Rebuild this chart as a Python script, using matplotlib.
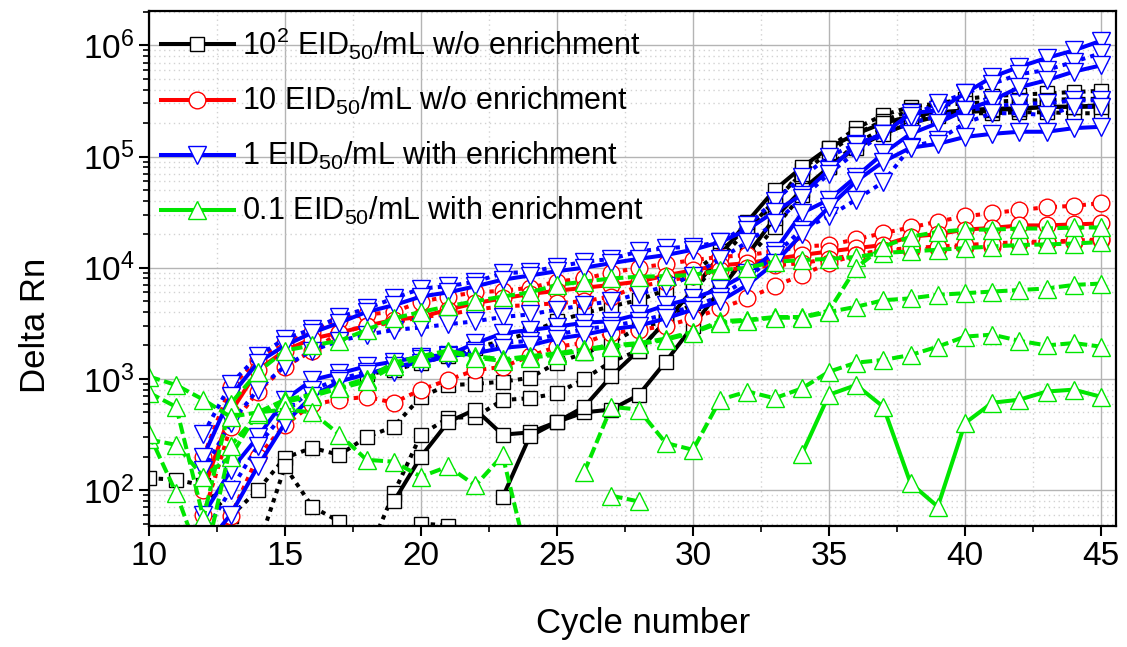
import numpy as np
import matplotlib
matplotlib.use("Agg")
import matplotlib.pyplot as plt
from matplotlib.lines import Line2D
from matplotlib.ticker import MultipleLocator, LogLocator, NullFormatter

nan = np.nan

# cycle numbers 10..45
cycles = np.arange(10, 46)

# 10^2 EID50/mL w/o enrichment (black squares)
k1 = [128, 124, 110, 58, 100, 195, 240, 207, 300, 372,
      690, 880, 900, 945, 1020, 1400, 1700, 2100, 2900, 3300,
      4800, 7000, 1.2e4, 2.3e4, 4.5e4, 8e4, 1.3e5, 1.8e5, 2.2e5, 2.4e5,
      2.45e5, 2.45e5, 2.5e5, 2.5e5, 2.45e5, 2.45e5]
k2 = [nan, nan, nan, nan, nan, nan, nan, nan, 1100, 1200,
      1400, 1600, 1900, 2200, 2600, 3300, 3900, 4500, 5100, 6300,
      9000, 1.4e4, 2.3e4, 3.7e4, 7.6e4, 1.2e5, 1.8e5, 2.36e5, 2.8e5, 3.0e5,
      3.3e5, 3.5e5, 3.6e5, 3.7e5, 3.8e5, 3.9e5]
k3 = [nan, nan, nan, nan, 30, 163, 71, 52, 25, 94,
      315, 445, 455, 645, 670, 740, 1000, 1430, 1800, 3300,
      6000, 1.2e4, 2.2e4, 4.0e4, 7.0e4, 1.1e5, 1.6e5, 2.1e5, 2.6e5, 2.9e5,
      3.0e5, 3.1e5, 3.2e5, 3.2e5, 3.3e5, 3.3e5]
k4 = [nan, nan, nan, nan, nan, nan, nan, nan, nan, 79,
      200, 410, 530, 315, 330, 410, 500, 530, 716, 1430,
      3000, 6300, 1.3e4, 2.8e4, 5e4, 8e4, 1.2e5, 1.6e5, 2.0e5, 2.3e5,
      2.5e5, 2.6e5, 2.7e5, 2.8e5, 2.8e5, 2.9e5]
k5 = [nan, nan, nan, nan, nan, nan, nan, nan, nan, nan,
      nan, nan, nan, 86, 305, 410, 560, 1060, 1800, 3300,
      6300, 1.3e4, 2.6e4, 5e4, 8e4, 1.2e5, 1.6e5, 2.0e5, 2.3e5, 2.5e5,
      2.6e5, 2.7e5, 2.7e5, 2.8e5, 2.8e5, 2.8e5]
k6 = [nan] * 10 + [50, 48] + [nan] * 24

# 10 EID50/mL w/o enrichment (red circles)
r1 = [nan, nan, 200, 850, 1480, 2100, 2660, 3400, 3800, 4000,
      4950, 5500, 6000, 6200, 6600, 7500, 8000, 9000, 1.0e4, 1.08e4,
      1.17e4, 1.25e4, 1.3e4, 1.4e4, 1.55e4, 1.6e4, 1.8e4, 2.05e4, 2.3e4, 2.6e4,
      2.9e4, 3.1e4, 3.3e4, 3.5e4, 3.6e4, 3.8e4]
r2 = [nan, nan, 100, 500, 1200, 1800, 2300, 2600, 3000, 3400,
      3600, 4200, 4800, 5300, 5800, 6200, 6600, 7000, 7500, 8500,
      9500, 1.05e4, 1.1e4, 1.2e4, 1.3e4, 1.4e4, 1.5e4, 1.6e4, 1.9e4, 2.0e4,
      2.2e4, 2.28e4, 2.4e4, 2.4e4, 2.45e4, 2.5e4]
r3 = [nan, nan, 60, 370, 770, 1280, 1800, 2600, 3000, 3200,
      3600, 3800, 4200, 4500, 4600, 4800, 5000, 5500, 6800, 7500,
      8500, 9500, 1.0e4, 1.05e4, 1.1e4, 1.2e4, 1.3e4, 1.44e4, 1.44e4, 1.5e4,
      1.55e4, 1.55e4, 1.66e4, 1.7e4, 1.72e4, 1.77e4]
r4 = [nan, nan, 20, 58, 200, 385, 590, 650, 690, 610,
      800, 980, 1200, 1280, 1600, 1950, 2100, 2600, 2750, 3000,
      3500, 4300, 5300, 6800, 8600, 1.1e4, 1.3e4, 1.44e4, 1.5e4, 1.55e4,
      1.6e4, 1.65e4, 1.7e4, 1.72e4, 1.75e4, 1.8e4]

# 1 EID50/mL with enrichment (blue down triangles)
b1 = [nan, nan, 320, 900, 1600, 2300, 2800, 3600, 4300, 5300,
      6500, 6800, 7500, 8900, 9200, 1.02e4, 1.13e4, 1.2e4, 1.4e4, 1.5e4,
      1.55e4, 1.7e4, 2.4e4, 4.0e4, 6.5e4, 1.0e5, 1.3e5, 1.6e5, 2.0e5, 2.3e5,
      2.6e5, 2.8e5, 3.0e5, 3.0e5, 3.2e5, 3.2e5]
b2 = [nan, nan, 200, 700, 1400, 2000, 2600, 3200, 4000, 4600,
      5500, 6000, 6800, 7800, 8500, 9300, 1.0e4, 1.1e4, 1.2e4, 1.3e4,
      1.45e4, 1.7e4, 2.2e4, 3.2e4, 4.5e4, 7.6e4, 1.27e5, 1.6e5, 2.45e5, 2.6e5,
      3.7e5, 5.2e5, 6.4e5, 7.7e5, 9.0e5, 1.1e6]
b3 = [nan, nan, 150, 400, 800, 1300, 1800, 2200, 2500, 2750,
      2900, 3100, 3300, 3600, 3800, 4200, 4600, 5000, 5800, 6800,
      8500, 1.2e4, 1.7e4, 2.5e4, 4.2e4, 7.0e4, 1.1e5, 1.6e5, 2.3e5, 3.0e5,
      3.7e5, 4.5e5, 5.5e5, 6.0e5, 7.1e5, 8.5e5]
b4 = [nan, nan, 60, 150, 300, 650, 980, 1120, 1300, 1430,
      1580, 1640, 2090, 2570, 2750, 2950, 3200, 3300, 3800, 4600,
      5300, 6500, 8900, 1.4e4, 3.1e4, 4.1e4, 6.6e4, 1.07e5, 1.6e5, 2.0e5,
      2.6e5, 3.2e5, 4.2e5, 4.85e5, 5.8e5, 6.6e5]
b5 = [nan, nan, 40, 100, 250, 500, 800, 1000, 1150, 1160,
      1500, 1550, 1800, 2100, 2200, 2500, 2800, 3000, 3300, 3800,
      4500, 5500, 8000, 1.3e4, 2.2e4, 2.9e4, 4.1e4, 5.9e4, 1.22e5, 1.4e5,
      2.0e5, 2.45e5, 2.45e5, 2.35e5, 2.8e5, 2.8e5]
b6 = [nan, nan, 30, 60, 163, 400, 700, 950, 1100, 1300,
      1400, 1600, 1700, 1900, 2000, 2300, 2500, 2800, 3000, 3500,
      4200, 5000, 7000, 1.1e4, 2.0e4, 3.5e4, 6.0e4, 9.0e4, 1.2e5, 1.3e5,
      1.5e5, 1.6e5, 1.67e5, 1.67e5, 1.8e5, 1.85e5]

# 0.1 EID50/mL with enrichment (green up triangles)
g1 = [750, 560, 56, 600, 1150, 1800, 2000, 2200, 2750, 3500,
      4000, 4500, 5000, 5500, 6000, 7000, 7500, 8000, 8300, 8400,
      8600, 9500, 1.0e4, 1.13e4, 1.17e4, 1.2e4, 1.25e4, 1.36e4, 1.4e4, 1.45e4,
      1.5e4, 1.55e4, 1.6e4, 1.62e4, 1.65e4, 1.7e4]
g2 = [285, 255, 132, 200, 500, 650, 720, 850, 1000, 1400,
      1600, 1800, 1600, 1500, 1600, 1700, 1850, 2000, 2100, 2300,
      2650, 3300, 3400, 3600, 3600, 4100, 1.0e4, 1.55e4, 1.9e4, 2.1e4,
      2.2e4, 2.2e4, 2.25e4, 2.25e4, 2.3e4, 2.3e4]
g3 = [320, 94, 20, 250, 480, 620, 700, 820, 950, 1300,
      1550, 1750, 1550, 1450, 1550, 1650, 1800, 1950, 2050, 2250,
      2600, 3200, 3350, 3550, 3550, 4000, 4450, 5100, 5300, 5700,
      5900, 6100, 6300, 6500, 7000, 7200]
g4 = [nan] * 16 + [145, 560, 530, 265,
                   230, 650, 770, 670, 820, 1160, 1400, 1480, 1640, 1950,
                   2400, 2500, 2200, 2000, 2100, 1950]
g5 = [nan] * 24 + [210, 720, 880, 560, 115, 71,
                   400, 610, 650, 770, 800, 690]
g6 = [nan] * 17 + [89, 79] + [nan] * 17
g7 = [1050, 880, 650, 455, 500, 530, 500, 316, 187, 180,
      132, 163, 110, 205, 20] + [nan] * 21

labels = [r'10$^{2}$ EID$_{50}$/mL w/o enrichment',
          r'10 EID$_{50}$/mL w/o enrichment',
          r'1 EID$_{50}$/mL with enrichment',
          r'0.1 EID$_{50}$/mL with enrichment']

plt.rcParams['font.family'] = ['Liberation Sans', 'DejaVu Sans']
plt.rcParams['mathtext.fontset'] = 'custom'
plt.rcParams['mathtext.rm'] = 'Liberation Sans'
plt.rcParams['mathtext.it'] = 'Liberation Sans:italic'
plt.rcParams['mathtext.bf'] = 'Liberation Sans:bold'

DOT = (0, (1.1, 1.3))
DASH = (0, (2.8, 1.1))
LW = 2.9

fig = plt.figure(figsize=(11.27, 6.47), dpi=100)
ax = fig.add_axes([0.1322, 0.187, 0.858, 0.7965])

groups = [
    ('black', 's', 10.5, [(k1, DOT), (k2, DOT), (k3, DOT), (k4, '-'), (k5, '-'), (k6, DOT)]),
    ('#ff0000', 'o', 12, [(r1, DOT), (r2, '-'), (r3, DOT), (r4, DOT)]),
    ('#0000ff', 'v', 13, [(b1, DOT), (b2, '-'), (b3, DOT), (b4, '-'), (b5, DOT), (b6, '-')]),
    ('#00e600', '^', 13, [(g1, DASH), (g2, DASH), (g3, DASH), (g4, DASH), (g5, '-'),
                          (g6, DASH), (g7, DASH)]),
]

for color, marker, ms, series in groups:
    for vals, ls in series:
        ax.plot(cycles, vals, color=color, linestyle=ls, linewidth=LW,
                marker=marker, markersize=ms, markerfacecolor='white',
                markeredgecolor=color, markeredgewidth=1.0)

ax.set_yscale('log')
ax.set_xlim(10, 45.55)
ax.set_ylim(47.5, 2.05e6)

ax.xaxis.set_major_locator(MultipleLocator(5))
ax.xaxis.set_minor_locator(MultipleLocator(2.5))
ax.yaxis.set_major_locator(LogLocator(base=10, numticks=10))
ax.yaxis.set_minor_locator(LogLocator(base=10, subs=np.arange(2, 10), numticks=20))
ax.yaxis.set_minor_formatter(NullFormatter())

ax.grid(True, which='major', color='#b4b4b4', linewidth=1.0, linestyle='-')
ax.grid(True, which='minor', color='#d2d2d2', linewidth=1.0, linestyle=(0, (1, 2.5)))
ax.set_axisbelow(True)

ax.tick_params(which='major', direction='out', length=7, width=1.5, labelsize=24,
               top=False, right=False)
ax.tick_params(which='minor', direction='out', length=4, width=1.2,
               top=False, right=False)
for sp in ax.spines.values():
    sp.set_linewidth(1.6)

ax.set_xlabel('Cycle number', fontsize=25)
ax.set_ylabel('Delta Rn', fontsize=25)
ax.xaxis.set_label_coords(0.511, -0.158)
ax.yaxis.set_label_coords(-0.100, 0.39)

handles = []
for (color, marker, ms, _), lab in zip(groups, labels):
    handles.append(Line2D([], [], color=color, linewidth=LW, marker=marker,
                          markersize=ms, markerfacecolor='white',
                          markeredgecolor=color, markeredgewidth=1.0))
leg = ax.legend(handles, labels, loc='upper left', bbox_to_anchor=(-0.01, 1.012),
                frameon=False, fontsize=22, handlelength=2.4, handletextpad=0.25,
                labelspacing=0.75, numpoints=1, borderaxespad=0.3)

fig.savefig('out.png', dpi=100)
